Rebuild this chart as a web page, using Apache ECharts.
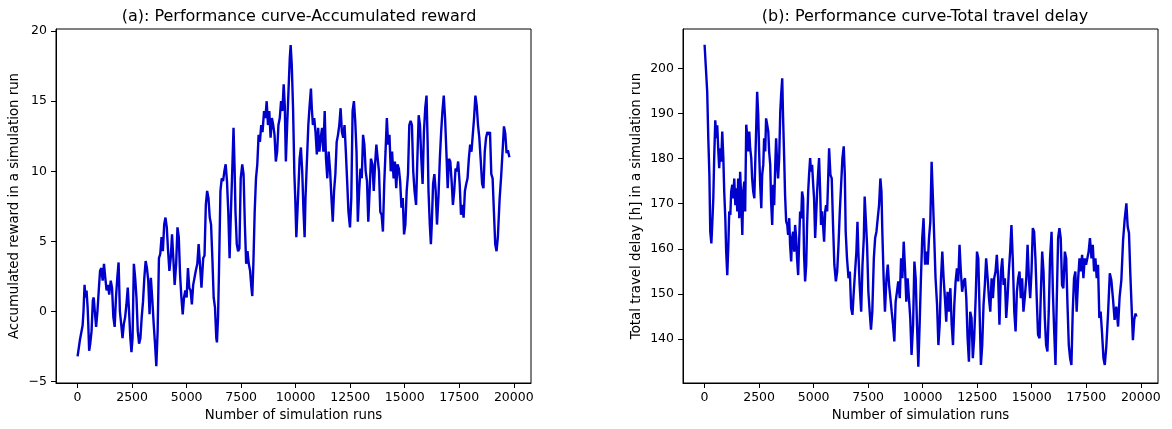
<!DOCTYPE html>
<html>
<head>
<meta charset="utf-8">
<script src="https://cdn.jsdelivr.net/npm/echarts@6/dist/echarts.min.js"></script>
<style>
	body{margin:0;background:#fff}
	#chart{width:1172px;height:429px}
</style>
</head>
<body>
<div id="chart"></div>
<script>
// (a) accumulated reward
var rewardRuns = [
	0,110,180,230,270,320,360,410,460,490,
	530,580,640,700,740,790,850,910,970,1030,
	1090,1150,1210,1270,1330,1390,1450,1520,1580,1640,
	1700,1760,1820,1880,1940,2000,2060,2120,2180,2240,
	2300,2360,2420,2470,2520,2580,2640,2700,2760,2820,
	2880,2940,3000,3060,3120,3180,3240,3300,3360,3420,
	3490,3550,3610,3670,3730,3790,3850,3910,3970,4030,
	4090,4150,4210,4270,4330,4390,4450,4520,4580,4640,
	4700,4760,4820,4880,4940,5000,5060,5120,5180,5240,
	5300,5360,5420,5490,5550,5610,5680,5760,5820,5880,
	5940,6000,6060,6120,6180,6240,6300,6360,6390,6440,
	6480,6550,6610,6670,6730,6790,6850,6910,6970,7030,
	7090,7150,7200,7240,7300,7360,7420,7480,7550,7610,
	7670,7730,7790,7850,7910,7970,8010,8060,8120,8180,
	8240,8300,8360,8420,8480,8550,8610,8670,8730,8790,
	8850,8910,8970,9030,9090,9150,9210,9270,9330,9390,
	9450,9500,9550,9610,9670,9730,9770,9820,9880,9940,
	9980,10030,10080,10120,10180,10240,10300,10360,10410,10450,
	10510,10580,10640,10700,10740,10790,10850,10910,10970,11030,
	11090,11150,11210,11270,11330,11390,11450,11510,11580,11640,
	11700,11760,11820,11880,11940,12000,12060,12120,12180,12240,
	12300,12360,12420,12490,12550,12610,12670,12730,12790,12850,
	12910,12970,13030,13090,13150,13210,13270,13330,13390,13450,
	13520,13580,13640,13700,13760,13820,13880,13940,14000,14060,
	14120,14180,14240,14300,14360,14420,14490,14550,14610,14670,
	14730,14790,14850,14910,14970,15030,15090,15150,15210,15270,
	15330,15390,15450,15520,15580,15640,15700,15760,15820,15880,
	15940,16000,16050,16090,16150,16200,16240,16300,16360,16420,
	16480,16550,16610,16670,16730,16790,16850,16910,16970,17030,
	17090,17150,17210,17270,17330,17390,17450,17520,17580,17640,
	17700,17760,17820,17880,17940,18000,18060,18120,18180,18240,
	18300,18360,18420,18480,18550,18610,18670,18730,18790,18850,
	18910,18970,19030,19090,19150,19210,19270,19350,19420,19500,
	19550,19610,19670,19730,19800
]
var rewardValues = [
	-3.2,-2.0,-1.9,-1.0,0.0,1.9,1.0,1.5,0.3,-0.9,
	-2.8,-2.3,-1.4,0.8,1.0,0.0,-1.1,0.0,1.5,2.9,
	3.1,2.2,3.4,2.4,1.5,1.9,1.2,2.2,1.7,-0.4,
	-1.1,1.0,2.4,3.5,0.0,-0.9,-1.9,-0.9,-0.4,0.5,
	1.7,0.0,-1.9,-2.9,-1.9,3.4,2.4,1.0,-1.4,-2.3,
	-1.9,-0.4,0.7,2.4,3.6,3.1,2.2,-0.2,2.4,1.0,
	-0.9,-2.3,-3.9,-1.4,3.8,4.1,5.3,4.3,6.2,6.7,
	6.0,4.3,2.9,3.8,5.5,3.8,1.9,3.4,6.0,5.3,
	2.6,1.0,-0.2,1.0,1.5,1.0,3.1,1.7,1.5,0.5,
	1.9,2.4,2.9,3.4,4.8,3.4,1.7,3.8,4.0,7.6,
	8.6,8.1,6.7,6.2,3.8,1.0,0.3,-1.9,-2.2,-0.4,
	2.6,8.6,9.5,9.3,10.0,10.5,9.3,7.1,3.8,7.1,
	10.0,13.1,10.2,7.1,4.8,4.3,4.5,9.5,10.5,9.8,
	6.2,3.4,4.3,3.4,2.9,1.7,1.1,3.4,7.1,9.5,
	10.5,12.6,12.1,13.3,12.8,14.3,13.8,15.0,13.3,14.3,
	12.4,13.8,13.3,12.6,10.7,11.4,13.3,13.8,15.0,14.3,
	16.2,14.7,10.7,13.3,15.7,18.1,19.0,17.6,14.5,9.8,
	8.1,5.3,7.1,8.6,10.9,11.7,10.0,7.1,5.3,8.1,
	10.5,13.3,14.7,15.9,14.5,13.3,13.8,12.8,11.2,13.1,
	11.4,12.4,13.1,11.4,14.3,10.9,9.5,11.4,10.0,8.1,
	6.4,8.6,9.8,12.1,12.6,13.3,14.5,12.8,12.4,13.3,
	11.4,9.3,7.1,6.0,8.1,14.3,15.0,13.6,11.4,6.4,
	8.6,10.2,9.5,12.6,11.9,10.0,9.3,6.4,8.6,10.9,
	10.5,8.6,10.5,11.9,10.9,10.0,7.1,6.9,5.7,9.1,
	11.4,13.8,11.9,12.6,10.0,11.4,9.5,10.7,8.8,10.5,
	10.2,9.3,7.4,8.1,5.5,6.2,8.6,9.8,13.3,13.6,
	13.3,10.0,8.6,7.6,10.9,14.0,13.3,10.9,9.1,12.8,
	14.5,15.4,12.1,8.6,6.2,4.8,6.2,9.1,9.8,8.6,
	6.2,8.3,10.9,12.8,14.3,15.4,13.8,11.4,8.8,10.9,
	10.7,9.3,7.6,8.6,10.2,10.0,10.7,9.1,6.9,7.6,
	6.7,8.6,9.1,9.5,10.9,11.9,11.4,12.6,13.8,15.4,
	14.7,13.3,12.4,10.9,9.1,8.8,11.4,12.4,12.8,12.6,
	12.8,9.8,9.5,7.1,4.8,4.3,5.3,8.0,9.6,11.8,
	13.2,12.7,11.3,11.5,11.0
]

// (b) total travel delay [h]
var delayRuns = [
	0,60,120,170,220,260,310,350,400,440,
	490,540,580,630,670,720,760,810,860,900,
	950,990,1040,1090,1130,1180,1220,1270,1310,1360,
	1410,1450,1500,1540,1590,1630,1680,1730,1770,1820,
	1860,1910,1950,2000,2050,2090,2140,2180,2230,2280,
	2320,2370,2410,2460,2500,2550,2600,2640,2690,2730,
	2780,2820,2870,2920,2960,3010,3050,3100,3150,3190,
	3240,3280,3330,3370,3420,3470,3510,3560,3600,3650,
	3690,3740,3790,3830,3880,3920,3970,4010,4060,4110,
	4150,4200,4240,4290,4340,4380,4430,4470,4520,4560,
	4610,4660,4700,4750,4790,4840,4880,4930,4980,5020,
	5070,5110,5160,5210,5250,5300,5340,5390,5430,5480,
	5530,5570,5620,5710,5770,5830,5890,5950,6020,6080,
	6140,6200,6260,6320,6380,6430,6470,6530,6600,6660,
	6720,6780,6840,6900,6960,7010,7050,7110,7180,7240,
	7300,7340,7390,7450,7510,7570,7630,7690,7760,7820,
	7880,7940,8000,8060,8110,8150,8210,8270,8340,8400,
	8460,8520,8580,8640,8700,8760,8820,8880,8950,9010,
	9070,9130,9190,9250,9310,9370,9430,9490,9560,9620,
	9680,9740,9800,9860,9920,9980,10040,10110,10170,10230,
	10290,10350,10410,10470,10530,10590,10660,10720,10780,10840,
	10900,10960,11020,11080,11140,11200,11270,11330,11390,11450,
	11510,11570,11630,11690,11750,11810,11880,11940,12000,12060,
	12120,12180,12240,12300,12360,12430,12490,12550,12610,12670,
	12730,12790,12850,12910,12980,13040,13100,13160,13220,13280,
	13340,13400,13460,13520,13590,13650,13710,13770,13830,13890,
	13950,14010,14070,14130,14200,14260,14320,14380,14440,14500,
	14560,14620,14680,14750,14810,14870,14930,14990,15050,15110,
	15170,15230,15290,15360,15420,15480,15540,15600,15660,15720,
	15780,15840,15910,15970,16030,16090,16150,16210,16270,16330,
	16390,16450,16520,16580,16640,16700,16760,16820,16880,16940,
	17000,17060,17130,17190,17250,17310,17370,17430,17490,17550,
	17610,17670,17740,17800,17860,17920,17980,18040,18100,18160,
	18220,18290,18350,18420,18500,18580,18650,18730,18800,18880,
	18960,19030,19110,19190,19260,19340,19400,19460,19520,19580,
	19640,19700,19760,19800
]
var delayValues = [
	205.2,200.0,194.8,184.5,176.4,163.8,161.2,165.3,171.2,180.1,
	188.5,184.5,187.4,181.6,177.9,182.3,179.3,186.0,180.1,172.7,
	166.8,159.4,154.2,160.9,168.3,167.5,172.7,174.2,171.2,175.6,
	169.7,173.4,168.3,175.6,166.8,177.1,171.2,163.1,172.7,174.9,
	168.3,187.5,185.2,181.6,186.0,182.3,180.1,175.6,172.7,171.2,
	178.6,187.5,194.8,189.7,181.6,174.2,169.0,176.4,178.6,184.5,
	181.6,188.9,187.5,186.0,181.6,178.6,170.5,165.3,174.2,169.7,
	178.6,184.5,178.6,175.6,180.1,190.4,194.1,197.8,188.9,180.1,
	172.0,166.1,165.3,163.1,166.8,160.9,157.2,162.4,163.8,159.4,
	165.3,162.4,157.9,154.2,162.4,168.3,166.8,172.7,171.2,158.7,
	152.8,156.5,165.3,172.7,176.4,180.1,177.1,178.6,174.2,171.2,
	162.4,166.8,172.7,177.1,180.1,172.7,165.3,168.3,165.3,161.6,
	168.3,169.7,168.3,182.3,176.4,175.6,165.3,156.5,152.8,155.0,
	160.9,168.3,174.2,180.1,182.7,176.4,163.8,157.9,153.5,155.0,
	146.9,145.4,150.5,155.0,159.4,166.0,159.4,152.0,146.1,156.5,
	162.4,171.6,166.8,160.9,150.5,146.1,142.1,146.1,157.9,162.4,
	163.8,166.8,169.7,175.6,172.7,163.8,153.5,146.1,153.5,156.5,
	152.0,149.1,146.1,143.2,139.5,148.3,150.5,152.8,149.1,157.9,
	153.5,161.6,155.7,148.3,153.5,149.1,144.7,136.5,143.2,157.2,
	153.5,143.2,133.9,143.2,153.5,162.4,166.8,156.5,159.4,156.5,
	162.4,166.0,179.3,171.2,162.4,153.5,147.6,138.7,143.2,153.5,
	159.4,153.5,149.1,143.9,150.5,146.1,151.3,143.2,138.7,147.6,
	152.8,155.7,152.8,160.9,155.0,150.5,152.8,153.5,149.1,140.2,
	135.0,146.1,144.7,135.8,140.2,149.1,159.4,157.9,146.1,134.3,
	138.7,147.6,152.0,157.9,153.5,149.1,146.1,153.5,149.1,153.5,
	155.0,158.7,153.5,143.2,155.0,157.9,152.0,153.5,144.7,149.1,
	155.0,159.4,165.3,157.9,146.1,141.7,150.5,153.5,155.0,149.1,
	153.5,146.1,149.1,153.5,160.9,153.5,149.1,155.0,164.6,163.8,
	157.9,149.1,141.0,140.2,150.5,159.4,155.0,144.7,138.7,137.3,
	146.1,157.9,163.8,150.5,141.7,134.3,149.1,162.4,164.6,162.4,
	152.0,151.3,159.4,157.9,147.6,138.7,135.8,134.3,146.1,153.5,
	155.0,146.1,153.5,157.9,155.0,158.7,153.5,157.9,156.5,157.9,
	159.4,162.4,157.9,160.9,155.0,157.9,153.5,156.5,144.7,146.1,
	141.7,135.8,134.3,138.4,145.7,154.6,153.1,148.7,144.3,147.2,
	142.8,149.4,153.1,162.0,166.4,170.1,164.9,163.5,154.6,147.2,
	139.8,144.3,145.7,145.0
]

var runTicks = [0,2500,5000,7500,10000,12500,15000,17500,20000]
var rewardTicks = [-5,0,5,10,15,20]
var delayTicks = [140,150,160,170,180,190,200]

var FONT = 'DejaVu Sans'

function pairs(xs, ys) {
	var out = []
	for (var i = 0; i < xs.length; i++) {
		out.push([xs[i], ys[i]])
	}
	return out
}

// plain numbers, matplotlib style minus
function tickText(v) {
	return v < 0 ? '\u2212' + Math.abs(v) : String(v)
}

function xAxisFor(idx) {
	return {
		type: 'value',
		gridIndex: idx,
		min: -990,
		max: 20790,
		name: 'Number of simulation runs',
		nameLocation: 'middle',
		nameGap: 25,
		nameTextStyle: {color: '#000', fontFamily: FONT, fontSize: 13.3},
		axisLine: {show: true, onZero: false, lineStyle: {color: '#000', width: 1}},
		axisTick: {show: true, customValues: runTicks, length: 5, lineStyle: {color: '#000'}},
		axisLabel: {customValues: runTicks, color: '#000', fontFamily: FONT, fontSize: 12.5, margin: 8, formatter: tickText},
		splitLine: {show: false}
	}
}

function yAxisFor(idx, min, max, ticks, name, gap) {
	return {
		type: 'value',
		gridIndex: idx,
		min: min,
		max: max,
		name: name,
		nameLocation: 'middle',
		nameGap: gap,
		nameTextStyle: {color: '#000', fontFamily: FONT, fontSize: 13.3},
		axisLine: {show: true, onZero: false, lineStyle: {color: '#000', width: 1}},
		axisTick: {show: true, customValues: ticks, length: 5, lineStyle: {color: '#000'}},
		axisLabel: {customValues: ticks, color: '#000', fontFamily: FONT, fontSize: 12.5, margin: 9, formatter: tickText},
		splitLine: {show: false}
	}
}

function lineFor(idx, data) {
	return {
		type: 'line',
		xAxisIndex: idx,
		yAxisIndex: idx,
		data: data,
		showSymbol: false,
		symbol: 'none',
		lineStyle: {color: '#0000CD', width: 2.4},
		animation: false
	}
}

function render() {
	var myChart = echarts.init(document.getElementById('chart'))
	var option = {
		backgroundColor: '#fff',
		animation: false,
		title: [
			{text: '(a): Performance curve-Accumulated reward', left: 294, top: 4, textAlign: 'center',
				textStyle: {color: '#000', fontFamily: FONT, fontSize: 16, fontWeight: 'normal'}},
			{text: '(b): Performance curve-Total travel delay', left: 920, top: 4, textAlign: 'center',
				textStyle: {color: '#000', fontFamily: FONT, fontSize: 16, fontWeight: 'normal'}}
		],
		grid: [
			{left: 56, top: 29, width: 475, height: 354, show: true, borderColor: '#000', borderWidth: 1},
			{left: 683, top: 29, width: 475, height: 354, show: true, borderColor: '#000', borderWidth: 1}
		],
		xAxis: [xAxisFor(0), xAxisFor(1)],
		yAxis: [
			yAxisFor(0, -5.1, 20.15, rewardTicks, 'Accumulated reward in a simulation run', 35),
			yAxisFor(1, 130.3, 208.7, delayTicks, 'Total travel delay [h] in a simulation run', 40)
		],
		series: [
			lineFor(0, pairs(rewardRuns, rewardValues)),
			lineFor(1, pairs(delayRuns, delayValues))
		]
	}
	myChart.setOption(option)
}

render()
</script>
</body>
</html>
